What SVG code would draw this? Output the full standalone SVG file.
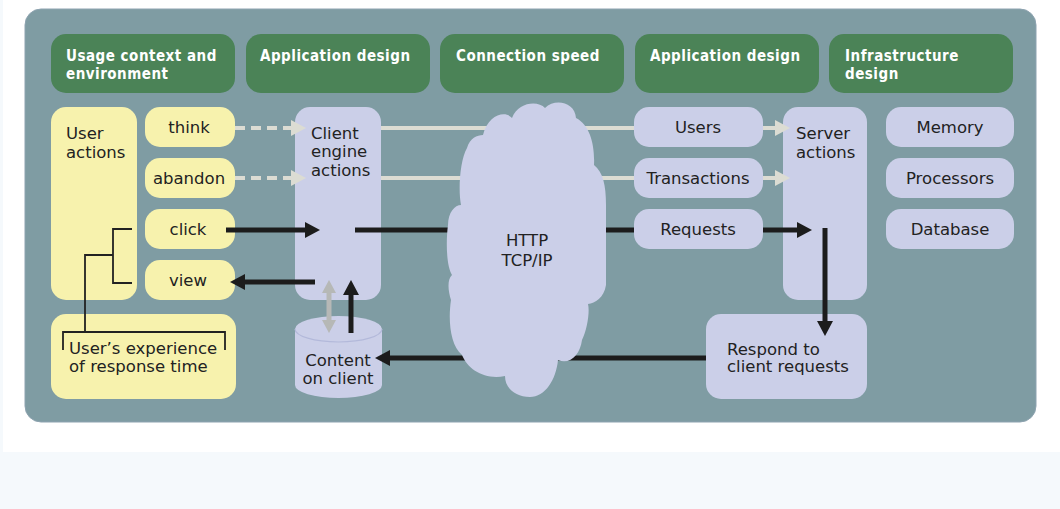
<svg xmlns="http://www.w3.org/2000/svg" width="1060" height="509" viewBox="0 0 1060 509">
<style>
.hdr{fill:#4b8357}
.ht{fill:#ffffff;font-family:"DejaVu Sans Condensed","DejaVu Sans",sans-serif;font-stretch:condensed;font-weight:bold;font-size:15px;letter-spacing:0.5px}
.yl{fill:#f7f2ad}
.lv{fill:#cbcfe8}
.t{fill:#222222;font-family:"DejaVu Sans",sans-serif;font-size:16.5px}
.c{text-anchor:middle}
.blk{stroke:#1c1c1c;stroke-width:5;fill:none}
.lt{stroke:#dcdcd3;stroke-width:4;fill:none}
.gr{stroke:#b6b8b6;stroke-width:5;fill:none}
.br{stroke:#222;stroke-width:1.8;fill:none}
</style>
<defs>
<marker id="ab" viewBox="0 -8 15 16" refX="0" refY="0" markerWidth="15" markerHeight="16" markerUnits="userSpaceOnUse" orient="auto"><path d="M0,-8 L15,0 L0,8 Z" fill="#1c1c1c"/></marker>
<marker id="al" viewBox="0 -8 15 16" refX="0" refY="0" markerWidth="15" markerHeight="16" markerUnits="userSpaceOnUse" orient="auto"><path d="M0,-8 L15,0 L0,8 Z" fill="#dcdcd3"/></marker>
<marker id="ag" viewBox="0 -7 13 14" refX="0" refY="0" markerWidth="13" markerHeight="14" markerUnits="userSpaceOnUse" orient="auto"><path d="M0,-7 L13,0 L0,7 Z" fill="#b6b8b6"/></marker>
<marker id="ags" viewBox="-13 -7 13 14" refX="0" refY="0" markerWidth="13" markerHeight="14" markerUnits="userSpaceOnUse" orient="auto"><path d="M0,-7 L-13,0 L0,7 Z" fill="#b6b8b6"/></marker>
</defs>
<rect x="0" y="0" width="1060" height="509" fill="#ffffff"/>
<rect x="0" y="452" width="1060" height="57" fill="#f5f9fc"/>
<rect x="0" y="0" width="3" height="452" fill="#f5f9fc"/>
<rect id="panel" x="25" y="9" width="1011" height="413" rx="16" fill="#7f9ca3" stroke="#8ea3b0" stroke-width="1"/>

<g id="h1"><rect class="hdr" x="51" y="34" width="184" height="59" rx="15"/><text class="ht" x="66" y="60.5">Usage context and</text><text class="ht" x="66" y="78.5">environment</text></g>
<g id="h2"><rect class="hdr" x="246" y="34" width="184" height="59" rx="15"/><text class="ht" x="260" y="60.5">Application design</text></g>
<g id="h3"><rect class="hdr" x="440" y="34" width="184" height="59" rx="15"/><text class="ht" x="456" y="60.5">Connection speed</text></g>
<g id="h4"><rect class="hdr" x="635" y="34" width="184" height="59" rx="15"/><text class="ht" x="650" y="60.5">Application design</text></g>
<g id="h5"><rect class="hdr" x="829" y="34" width="184" height="59" rx="15"/><text class="ht" x="845" y="60.5">Infrastructure</text><text class="ht" x="845" y="78.5">design</text></g>

<g id="user-actions"><rect class="yl" x="51" y="107" width="86" height="193" rx="15"/><text class="t" x="66" y="139">User</text><text class="t" x="66" y="158">actions</text></g>
<g id="think"><rect class="yl" x="145" y="107" width="90" height="40" rx="15"/><text class="t c" x="189" y="133">think</text></g>
<g id="abandon"><rect class="yl" x="145" y="158" width="90" height="40" rx="15"/><text class="t c" x="189" y="184">abandon</text></g>
<g id="click"><rect class="yl" x="145" y="209" width="90" height="40" rx="15"/><text class="t c" x="188" y="235">click</text></g>
<g id="view"><rect class="yl" x="145" y="260" width="90" height="40" rx="15"/><text class="t c" x="188" y="286">view</text></g>
<g id="experience"><rect class="yl" x="51" y="314" width="185" height="85" rx="15"/><text class="t" x="69" y="354">User’s experience</text><text class="t" x="69" y="372">of response time</text>
<path class="br" d="M132,229 H113 V283 H132 M113,255 H85 V332 M63,350 V332 H225 V350"/></g>

<g id="client-engine"><rect class="lv" x="295" y="107" width="86" height="193" rx="15"/><text class="t" x="311" y="139">Client</text><text class="t" x="311" y="157">engine</text><text class="t" x="311" y="176">actions</text></g>
<g id="content-on-client"><path class="lv" d="M295,329 V385 A43.5,13 0 0 0 382,385 V329 A43.5,13 0 0 0 295,329 Z"/><path d="M295,329 A43.5,13 0 0 0 382,329" fill="none" stroke="#b3b9da" stroke-width="1.2"/><text class="t c" x="338" y="366">Content</text><text class="t c" x="338" y="384">on client</text></g>

<g id="users"><rect class="lv" x="634" y="107" width="129" height="40" rx="15"/><text class="t c" x="698" y="133">Users</text></g>
<g id="transactions"><rect class="lv" x="634" y="158" width="129" height="40" rx="15"/><text class="t c" x="698" y="184">Transactions</text></g>
<g id="requests"><rect class="lv" x="634" y="209" width="129" height="40" rx="15"/><text class="t c" x="698" y="235">Requests</text></g>
<g id="server-actions"><rect class="lv" x="783" y="107" width="84" height="193" rx="15"/><text class="t" x="796" y="139">Server</text><text class="t" x="796" y="158">actions</text></g>
<g id="respond"><rect class="lv" x="706" y="314" width="161" height="85" rx="15"/><text class="t" x="727" y="355">Respond to</text><text class="t" x="727" y="372">client requests</text></g>
<g id="memory"><rect class="lv" x="886" y="107" width="128" height="40" rx="15"/><text class="t c" x="950" y="133">Memory</text></g>
<g id="processors"><rect class="lv" x="886" y="158" width="128" height="40" rx="15"/><text class="t c" x="950" y="184">Processors</text></g>
<g id="database"><rect class="lv" x="886" y="209" width="128" height="40" rx="15"/><text class="t c" x="950" y="235">Database</text></g>

<g id="connectors">
<path class="lt" d="M235,128 H291" stroke-dasharray="10 6" marker-end="url(#al)"/>
<path class="lt" d="M235,178 H291" stroke-dasharray="10 6" marker-end="url(#al)"/>
<path class="lt" d="M381,128 H634"/>
<path class="lt" d="M381,178 H634"/>
<path class="lt" d="M763,128 H775" marker-end="url(#al)"/>
<path class="lt" d="M763,178 H775" marker-end="url(#al)"/>
<path class="blk" d="M226,230 H305" marker-end="url(#ab)"/>
<path class="blk" d="M355,230 H634"/>
<path class="blk" d="M763,230 H797" marker-end="url(#ab)"/>
<path class="blk" d="M825,228 V321" marker-end="url(#ab)"/>
<path class="blk" d="M706,358 H390" marker-end="url(#ab)"/>
<path class="blk" d="M315,282 H245" marker-end="url(#ab)"/>
<path class="blk" d="M351,333 V295" marker-end="url(#ab)"/>
<path class="gr" d="M329,293 V320" marker-start="url(#ags)" marker-end="url(#ag)"/>
</g>

<g id="cloud"><path class="lv" d="M483,135 C488,115 505,110 512,118 C518,102 538,100 545,108 C555,98 575,102 576,118 C590,125 595,145 594,165 C603,172 606,185 606,205 L606,285 C604,298 595,303 588,304 C590,312 587,330 582,340 C580,355 570,365 558,360 C556,380 545,397 530,397 C515,397 505,388 505,376 C485,380 468,370 462,355 C450,345 448,320 451,300 C448,290 447,280 452,275 C446,265 446,240 448,225 C448,212 455,205 461,205 C458,190 460,160 467,148 C470,138 477,135 483,135 Z"/><text class="t c" x="527" y="246">HTTP</text><text class="t c" x="527" y="266">TCP/IP</text></g>
</svg>
